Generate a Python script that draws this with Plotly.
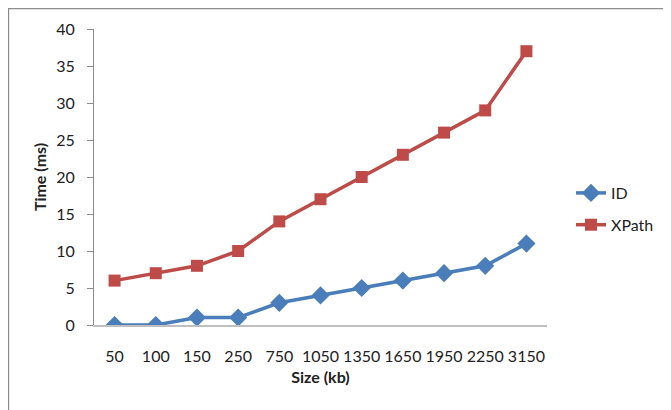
import plotly.graph_objects as go

categories = ["50", "100", "150", "250", "750", "1050", "1350", "1650", "1950", "2250", "3150"]
id_values = [0, 0, 1, 1, 3, 4, 5, 6, 7, 8, 11]
xpath_values = [6, 7, 8, 10, 14, 17, 20, 23, 26, 29, 37]

BLUE = "#4A7EBB"
RED = "#BE4B48"
FONT = "Lato"

L, T, PW, PH = 86, 21, 453, 296
W, H = 671, 410

fig = go.Figure()
fig.add_trace(go.Scatter(
    x=categories, y=id_values, name="ID", mode="lines+markers",
    legendgroup="a",
    line=dict(color=BLUE, width=3.5),
    marker=dict(symbol="diamond", size=14, color=BLUE),
))
fig.add_trace(go.Scatter(
    x=categories, y=xpath_values, name="XPath", mode="lines+markers",
    legendgroup="b",
    line=dict(color=RED, width=3.5),
    marker=dict(symbol="square", size=12, color=RED),
))

fig.update_layout(
    width=W, height=H,
    margin=dict(l=L, r=W - L - PW, t=T, b=H - T - PH),
    paper_bgcolor="white", plot_bgcolor="white",
    font=dict(family=FONT, size=16, color="#222"),
    showlegend=True,
    legend=dict(x=1.053, y=(PH - (209 - 8 - T)) / PH, xanchor="left", yanchor="middle",
                font=dict(size=16), itemwidth=30, tracegroupgap=8),
    xaxis=dict(
        type="category", range=[-0.5, 10.5],
        showline=True, linecolor="#BFBFBF", linewidth=1.5,
        ticks="", showgrid=False, zeroline=False,
        ticklabelstandoff=16,
        title=dict(text="<b>Size (kb)</b>", font=dict(size=16), standoff=8),
    ),
    yaxis=dict(
        range=[0, 40], dtick=5,
        showline=True, linecolor="#8C8C8C", linewidth=1,
        ticks="outside", ticklen=6, tickcolor="#8C8C8C",
        showgrid=False, zeroline=False,
        ticklabelstandoff=9,
        title=dict(text="<b>Time (ms)</b>", font=dict(size=16), standoff=5),
    ),
    shapes=[dict(
        type="rect", xref="paper", yref="paper",
        x0=-L / PW + 0.001, x1=2.0, y0=-1.0, y1=1 + T / PH - 0.002,
        line=dict(color="#8C8C8C", width=1.5), fillcolor="rgba(0,0,0,0)",
        layer="below",
    )],
)

fig.write_html("out.html")
